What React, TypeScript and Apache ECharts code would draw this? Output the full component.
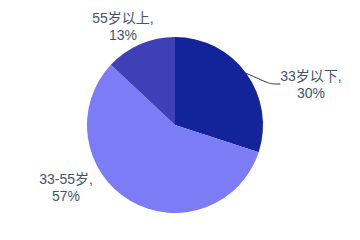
import React, { useEffect, useRef } from "react";
import * as echarts from "echarts";

const categories = ["33岁以下", "33-55岁", "55岁以上"];
const values = [30, 57, 13];
const colors = ["#13249a", "#7b7cf6", "#3f3fb8"];
const labelCenters = [
  [311, 84],
  [66, 187],
  [123, 26],
];
const showLines = [true, false, false];

export default function App() {
  const ref = useRef<HTMLDivElement>(null);
  useEffect(() => {
    if (!ref.current) return;
    const chart = echarts.init(ref.current, null, { renderer: "svg" });
    chart.setOption({
      animation: false,
      backgroundColor: "#ffffff",
      series: [
        {
          type: "pie",
          center: [175, 125],
          radius: [0, 88],
          startAngle: 90,
          clockwise: true,
          data: categories.map((name, i) => ({
            name,
            value: values[i],
            itemStyle: { color: colors[i] },
            labelLine: { show: showLines[i] },
          })),
          label: {
            show: true,
            position: "outside",
            formatter: "{b},\n{c}%",
            color: "#44546a",
            fontSize: 14,
            lineHeight: 17,
            align: "center",
            fontFamily: "'Liberation Sans', 'Noto Sans CJK SC', sans-serif",
          },
          labelLine: {
            show: true,
            length: 8,
            length2: 10,
            smooth: true,
            lineStyle: { color: "#303030", width: 1 },
          },
          labelLayout: (params: any) => {
            const c = labelCenters[params.dataIndex];
            return {
              x: c[0],
              y: c[1],
              align: "center",
              verticalAlign: "middle",
            };
          },
        },
      ],
    });
    return () => chart.dispose();
  }, []);
  return <div ref={ref} style={{ width: 360, height: 240, position: "absolute", left: 0, top: 0 }} />;
}
